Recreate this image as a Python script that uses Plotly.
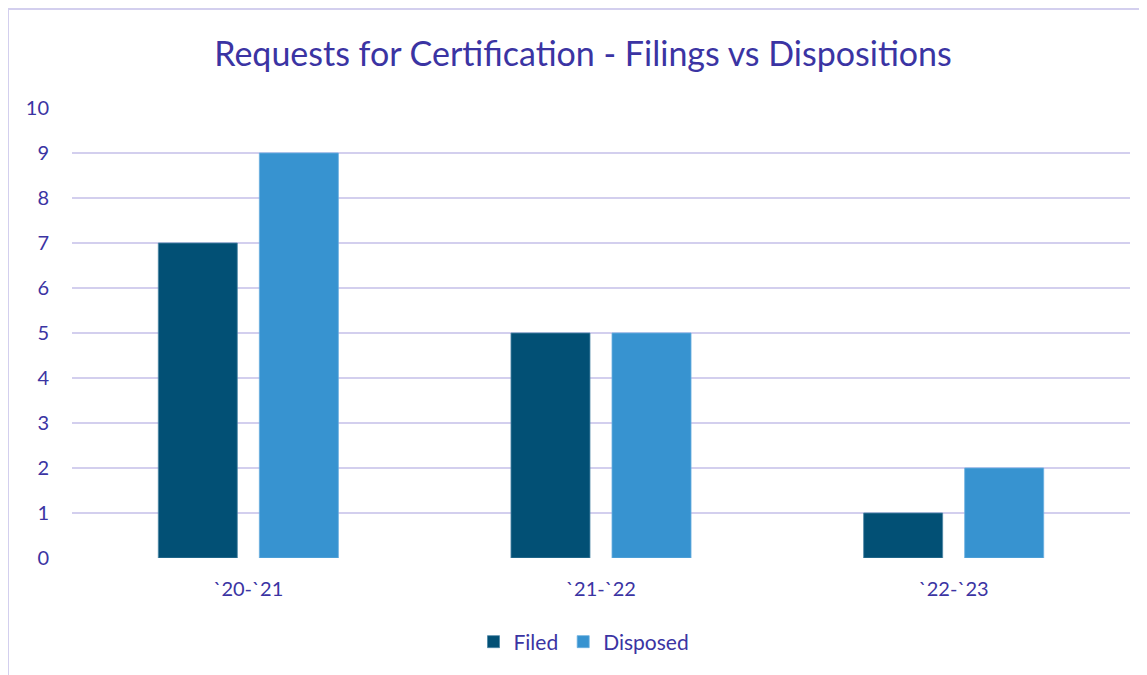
import plotly.graph_objects as go

categories = ["`20-`21", "`21-`22", "`22-`23"]
filed = [7, 5, 1]
disposed = [9, 5, 2]
y_ticks = list(range(0, 11))

TEXT = "#3b34a3"
GRID = "#d3cfee"
FONT = "Lato, 'Open Sans', sans-serif"

# page body has an 8px offset
OFF = 8
W, H = 1147, 675
L, R, T, B = 72 - OFF, 25, 108 - OFF, 125
pw, ph = W - L - R, H - T - B

def px_x(x):
    return (x - OFF - L) / pw

def px_y(y):
    return (H - B - (y - OFF)) / ph

fig = go.Figure()
fig.add_trace(go.Bar(name="Filed", x=categories, y=filed,
                     marker=dict(color="#025075", line=dict(color="#4d86a6", width=0.8))))
fig.add_trace(go.Bar(name="Disposed", x=categories, y=disposed,
                     marker=dict(color="#3793d0", line=dict(color="#6aaee0", width=0.8))))

fig.update_layout(
    width=W, height=H,
    margin=dict(l=L, r=R, t=T, b=B),
    paper_bgcolor="white", plot_bgcolor="white",
    barmode="group", bargap=0.427, bargroupgap=0.218,
    font=dict(family=FONT, color=TEXT, size=19),
    title=dict(text="Requests for Certification - Filings vs Dispositions",
               font=dict(family=FONT, size=34, color=TEXT),
               x=(583 - OFF) / W, xref="container", xanchor="center",
               y=1 - (54 - OFF) / H, yref="container", yanchor="middle"),
    legend=dict(orientation="h", x=px_x(584), xanchor="center",
                y=px_y(642), yanchor="middle", font=dict(size=21, color=TEXT),
                itemwidth=30, traceorder="normal"),
    xaxis=dict(showgrid=False, showline=False, zeroline=False,
               ticks="", tickfont=dict(size=20, color=TEXT), ticklabelstandoff=17),
    yaxis=dict(range=[0, 10], tickvals=y_ticks, showgrid=True, gridcolor=GRID,
               gridwidth=2, zeroline=False, showline=False, ticks="",
               tickfont=dict(size=20, color=TEXT), ticklabelstandoff=22),
    shapes=[
        dict(type="line", xref="paper", yref="paper",
             x0=px_x(8), x1=px_x(8), y0=px_y(9), y1=px_y(700),
             line=dict(color=GRID, width=2)),
        dict(type="line", xref="paper", yref="paper",
             x0=px_x(8), x1=px_x(1170), y0=px_y(9), y1=px_y(9),
             line=dict(color=GRID, width=2)),
    ],
)

fig.write_html("out.html")
